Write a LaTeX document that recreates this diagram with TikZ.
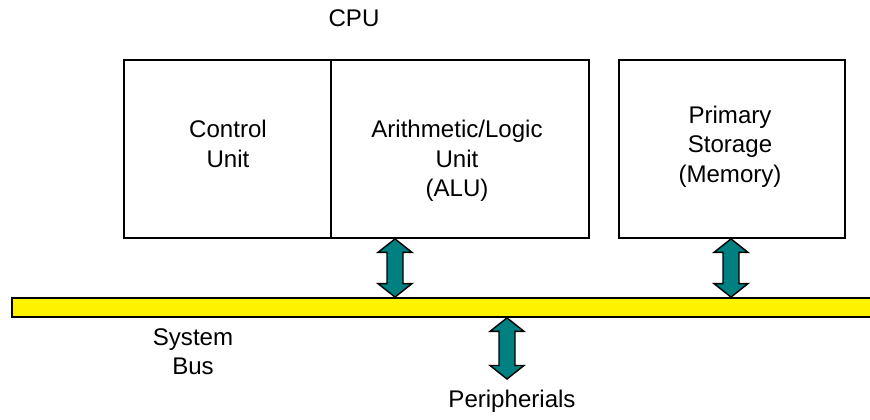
\documentclass[tikz,border=0pt]{standalone}
\usepackage{fontspec}
\setmainfont{Liberation Sans}
\usetikzlibrary{calc}

\tikzset{
    unit/.style={draw, line width=1pt, inner sep=0pt, minimum height=3.56cm},
    txt/.style={align=center, inner sep=0pt, font=\fontsize{13.7pt}{16.8pt}\selectfont},
    sysbus/.style={draw, fill=yellow, line width=1pt, inner sep=0pt,
        minimum width=17.36cm, minimum height=0.38cm},
    busarrow/.style={draw, fill=teal, line width=0.8pt}
}

% block double arrow from top point #1 down to bottom point #2
\newcommand{\dblarrow}[2]{%
    \draw[busarrow] (#1) -- ++(0.34,-0.27) -- ++(-0.18,0) -- ($(#2)+(0.16,0.27)$)
        -- ++(0.18,0) -- (#2) -- ++(-0.34,0.27) -- ++(0.18,0)
        -- ($(#1)+(-0.16,-0.27)$) -- ++(-0.18,0) -- cycle;}

\begin{document}
\begin{tikzpicture}
    \useasboundingbox (0,0) rectangle (17.4,8.4);

    % CPU
    \node[unit, minimum width=4.14cm] (cu) at (4.55,5.42) {};
    \node[unit, minimum width=5.16cm] (alu) at (9.2,5.42) {};
    \node[txt] (cpu) at (7.08,8.03) {CPU};
    \node[txt] (cutext) at (4.56,5.52) {Control\\Unit};
    \node[txt] (alutext) at (9.14,5.18) {Arithmetic/Logic\\Unit\\(ALU)};

    % Memory
    \node[unit, minimum width=4.52cm] (mem) at (14.64,5.42) {};
    \node[txt] (memtext) at (14.6,5.47) {Primary\\Storage\\(Memory)};

    % System Bus
    \node[sysbus] (bus) at (8.92,2.25) {};
    \node[txt] (bustext) at (3.86,1.37) {System\\Bus};

    % Peripherials
    \node[txt] (periph) at (10.24,0.37) {Peripherials};

    % Arrows
    \coordinate (alutop) at (7.9,0 |- alu.south);
    \coordinate (alubot) at (7.9,0 |- bus.north);
    \coordinate (memtop) at (14.62,0 |- mem.south);
    \coordinate (membot) at (14.62,0 |- bus.north);
    \coordinate (pertop) at (10.14,0 |- bus.south);
    \coordinate (perbot) at (10.14,0.82);
    \dblarrow{alutop}{alubot}
    \dblarrow{memtop}{membot}
    \dblarrow{pertop}{perbot}
\end{tikzpicture}
\end{document}
